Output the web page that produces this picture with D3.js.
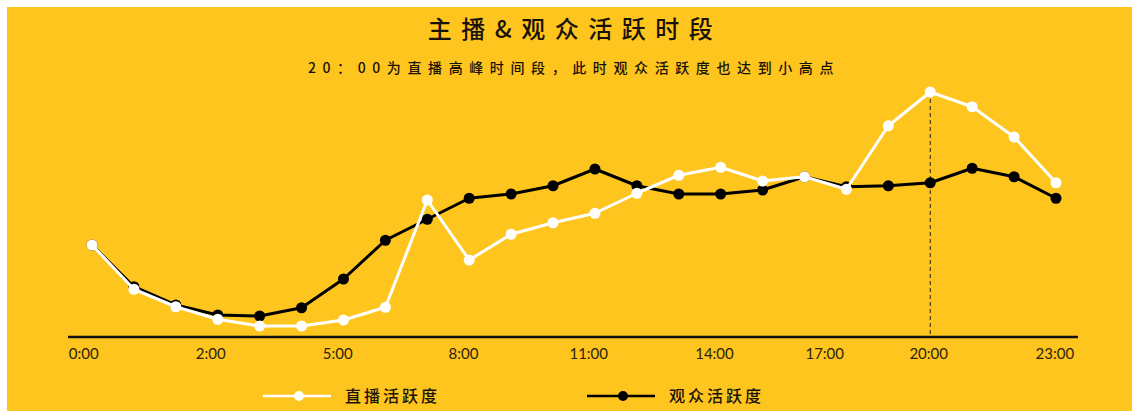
<!DOCTYPE html>
<html>
<head>
<meta charset="utf-8">
<script src="https://cdn.jsdelivr.net/npm/d3@7"></script>
<style>
  body { margin: 0; background: #ffffff; }
  svg { display: block; }
</style>
</head>
<body>
<div id="chart"></div>
<script>
// hourly slots 0..23
var hours = d3.range(24);
// 直播活跃度 (white line)
var liveValues = [36.8, 19.1, 12.1, 7.1, 4.4, 4.4, 6.8, 11.9, 54.8, 30.8, 41.1, 45.7,
  49.5, 57.5, 64.7, 67.9, 62.4, 64.1, 59.1, 84.5, 98, 92.1, 80, 61.7];
// 观众活跃度 (black line)
var audienceValues = [36.8, 20.1, 12.8, 8.8, 8.4, 11.7, 23.2, 38.7, 47.1, 55.5, 57.2, 60.5,
  67.2, 60.5, 57.2, 57.2, 58.8, 64.1, 60.1, 60.5, 61.7, 67.5, 64.1, 55.5];
// tick labels as printed under the axis, and where they sit on the slot scale
var tickLabels = ['0:00', '2:00', '5:00', '8:00', '11:00', '14:00', '17:00', '20:00', '23:00'];
var tickSlots = [-0.21, 2.82, 5.85, 8.85, 11.84, 14.84, 17.47, 19.95, 22.96];
var peakSlot = 20;

var title = '主播&观众活跃时段';
var subtitle = '20：00为直播高峰时间段，此时观众活跃度也达到小高点';
var seriesNames = ['直播活跃度', '观众活跃度'];

var W = 1132, H = 411;
var bg = '#fec51f';

var svg = d3.select('#chart').append('svg')
  .attr('width', W)
  .attr('height', H);

svg.append('rect')
  .attr('x', 7).attr('y', 7)
  .attr('width', W - 7).attr('height', H - 7)
  .attr('fill', bg);

// scales
var x = d3.scaleLinear().domain([0, 23]).range([92, 1056]);
var y = d3.scaleLinear().domain([0, 100]).range([337, 87]);

// title + subtitle
svg.append('text')
  .attr('x', 575).attr('y', 38)
  .attr('text-anchor', 'middle')
  .style('font-family', '"Noto Sans CJK SC", sans-serif')
  .style('font-size', '24px')
  .style('font-weight', 500)
  .style('letter-spacing', '9.5px')
  .attr('fill', '#1a1208')
  .text(title);

svg.append('text')
  .attr('x', 574).attr('y', 73)
  .attr('text-anchor', 'middle')
  .style('font-family', '"Noto Sans CJK SC", sans-serif')
  .style('font-size', '14px')
  .style('font-weight', 500)
  .style('letter-spacing', '6.6px')
  .attr('fill', '#1a1208')
  .text(subtitle);

// x axis
var xAxis = d3.axisBottom(x)
  .tickValues(tickSlots)
  .tickSize(0)
  .tickPadding(11)
  .tickFormat(function (d, i) { return tickLabels[i]; });

var axisG = svg.append('g')
  .attr('transform', 'translate(0,' + y(0) + ')')
  .call(xAxis);
axisG.select('.domain').remove();
axisG.append('line')
  .attr('x1', 68).attr('x2', 1078)
  .attr('stroke', '#111').attr('stroke-width', 2.5);
axisG.selectAll('text')
  .style('font-family', 'Lato, sans-serif')
  .style('font-size', '15px')
  .attr('fill', '#2e2208');

// dashed marker at the peak hour
svg.append('line')
  .attr('x1', x(peakSlot)).attr('x2', x(peakSlot))
  .attr('y1', y(liveValues[peakSlot])).attr('y2', y(0))
  .attr('stroke', '#222')
  .attr('stroke-width', 1)
  .attr('stroke-dasharray', '4,3');

var line = d3.line()
  .x(function (d, i) { return x(hours[i]); })
  .y(function (d) { return y(d); });

// audience first, live line drawn on top
var series = [
  { values: audienceValues, color: '#000000' },
  { values: liveValues, color: '#ffffff' }
];

series.forEach(function (s) {
  svg.append('path')
    .datum(s.values)
    .attr('d', line)
    .attr('fill', 'none')
    .attr('stroke', s.color)
    .attr('stroke-width', 3)
    .attr('stroke-linejoin', 'round');
  svg.selectAll(null)
    .data(s.values)
    .enter()
    .append('circle')
    .attr('cx', function (d, i) { return x(hours[i]); })
    .attr('cy', function (d) { return y(d); })
    .attr('r', 5.5)
    .attr('fill', s.color);
});

// legend
var legend = [
  { name: seriesNames[0], color: '#ffffff', x: 263 },
  { name: seriesNames[1], color: '#000000', x: 587 }
];
legend.forEach(function (l) {
  var g = svg.append('g').attr('transform', 'translate(' + l.x + ',396)');
  g.append('line')
    .attr('x1', 0).attr('x2', 68)
    .attr('stroke', l.color).attr('stroke-width', 2.5);
  g.append('circle')
    .attr('cx', 36).attr('r', 5)
    .attr('fill', l.color);
  g.append('text')
    .attr('x', 82).attr('y', 6)
    .style('font-family', '"Noto Sans CJK SC", sans-serif')
    .style('font-size', '16px')
    .style('font-weight', 500)
    .style('letter-spacing', '3px')
    .attr('fill', '#1a1208')
    .text(l.name);
});
</script>
</body>
</html>
